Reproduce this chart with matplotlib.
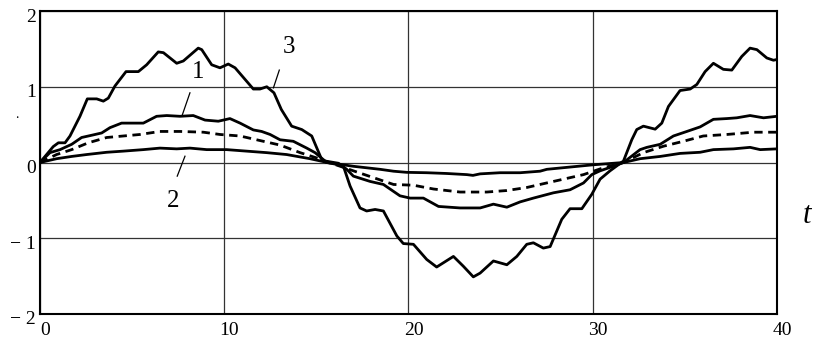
import matplotlib
matplotlib.use("Agg")
import matplotlib.pyplot as plt
import matplotlib.transforms as mtransforms

plt.rcParams['font.family'] = ['Liberation Serif', 'DejaVu Serif']

# curve 3 (largest amplitude)
t3 = [0, 0.72, 1.0, 1.36, 1.63, 2.17, 2.57, 3.08, 3.44, 3.71, 4.07, 4.67, 5.34, 5.79,
      6.42, 6.7, 7.42, 7.78, 8.59, 8.78, 9.32, 9.77, 10.22, 10.59, 11.58, 11.94, 12.31,
      12.7, 13.1, 13.66, 14.21, 14.75, 15.29, 15.55, 16.0, 16.47, 16.83, 17.37, 17.73,
      18.19, 18.64, 19.37, 19.72, 20.27, 20.99, 21.53, 22.44, 22.98, 23.52, 23.89, 24.61,
      25.34, 25.88, 26.42, 26.78, 27.32, 27.69, 28.32, 28.77, 29.41, 29.95, 30.40, 30.94,
      31.67, 32.12, 32.39, 32.75, 33.39, 33.75, 34.11, 34.74, 35.29, 35.65, 36.10, 36.55,
      37.09, 37.55, 38.09, 38.54, 38.91, 39.45, 39.81, 40]
y3 = [0, 0.21, 0.26, 0.26, 0.35, 0.61, 0.84, 0.84, 0.81, 0.85, 1.01, 1.20, 1.20, 1.29,
      1.46, 1.45, 1.31, 1.34, 1.51, 1.49, 1.29, 1.25, 1.30, 1.25, 0.97, 0.97, 1.0,
      0.92, 0.70, 0.48, 0.435, 0.35, 0.04, 0.0, -0.02, -0.05, -0.31, -0.60, -0.64,
      -0.62, -0.64, -0.97, -1.07, -1.08, -1.28, -1.38, -1.24, -1.37, -1.51, -1.46, -1.30,
      -1.35, -1.24, -1.08, -1.06, -1.13, -1.11, -0.75, -0.61, -0.61, -0.42, -0.22, -0.11,
      0.02, 0.30, 0.435, 0.48, 0.44, 0.52, 0.74, 0.95, 0.97, 1.03, 1.20, 1.31,
      1.23, 1.22, 1.40, 1.51, 1.49, 1.38, 1.35, 1.36]

# curve 1
t1 = [0, 0.54, 1.09, 1.72, 2.26, 2.81, 3.35, 3.80, 4.43, 5.07, 5.61, 6.33, 6.88, 7.60,
      8.32, 8.96, 9.68, 10.31, 10.86, 11.58, 12.03, 12.49, 13.03, 13.75, 14.48, 14.93,
      15.47, 16.2, 16.65, 17.01, 17.92, 18.64, 19.54, 20.09, 20.81, 21.63, 22.80, 23.89,
      24.61, 25.34, 26.06, 26.78, 27.87, 28.77, 29.50, 29.95, 30.40, 31.12, 31.67, 32.57,
      32.94, 33.66, 34.38, 35.11, 35.83, 36.55, 37.28, 37.82, 38.54, 39.27, 40]
y1 = [0, 0.13, 0.17, 0.24, 0.33, 0.36, 0.39, 0.46, 0.52, 0.52, 0.52, 0.61, 0.62, 0.61,
      0.62, 0.56, 0.545, 0.58, 0.52, 0.43, 0.41, 0.37, 0.30, 0.28, 0.19, 0.13,
      0.02, -0.01, -0.09, -0.18, -0.25, -0.29, -0.44, -0.47, -0.47, -0.58, -0.60, -0.60,
      -0.55, -0.59, -0.52, -0.47, -0.40, -0.36, -0.27, -0.16, -0.11, -0.05, 0.0, 0.17,
      0.20, 0.24, 0.35, 0.41, 0.47, 0.57, 0.58, 0.59, 0.62, 0.59, 0.61]

# dashed curve
td = [0, 0.9, 1.72, 2.62, 3.62, 4.52, 5.43, 6.51, 7.60, 8.87, 9.77, 10.86, 11.94, 13.03,
      14.12, 15.02, 15.7, 17.01, 18.10, 19.19, 20.27, 21.36, 22.80, 24.25, 25.34, 26.42,
      27.14, 28.41, 29.50, 30.58, 31.67, 32.75, 33.84, 34.92, 36.0, 37.28, 38.72, 40]
yd = [0, 0.105, 0.17, 0.26, 0.33, 0.35, 0.37, 0.41, 0.41, 0.40, 0.37, 0.35, 0.29, 0.23,
      0.13, 0.06, 0.0, -0.11, -0.20, -0.29, -0.30, -0.35, -0.39, -0.39, -0.37, -0.33,
      -0.29, -0.22, -0.16, -0.07, 0.0, 0.13, 0.215, 0.28, 0.35, 0.37, 0.40, 0.40]

# curve 2 (smallest)
t2 = [0, 0.9, 1.72, 2.53, 3.62, 4.52, 5.61, 6.51, 7.42, 8.14, 9.05, 10.13, 11.22, 12.31,
      13.39, 14.66, 15.6, 17.01, 18.46, 19.19, 19.91, 20.99, 22.08, 23.17, 23.5, 23.89,
      24.97, 26.06, 27.14, 27.51, 28.77, 30.04, 31.67, 32.57, 33.66, 34.74, 35.83, 36.55,
      37.64, 38.54, 39.09, 40]
y2 = [0, 0.05, 0.08, 0.105, 0.135, 0.15, 0.17, 0.19, 0.18, 0.19, 0.17, 0.17, 0.15, 0.13,
      0.105, 0.05, 0.0, -0.05, -0.09, -0.115, -0.13, -0.135, -0.145, -0.16, -0.17, -0.15,
      -0.135, -0.135, -0.115, -0.09, -0.06, -0.03, 0.0, 0.05, 0.08, 0.12, 0.135, 0.17,
      0.18, 0.20, 0.17, 0.18]

xticks = [0, 10, 20, 30, 40]
yticks = [-2, -1, 0, 1, 2]
ytick_labels = ['\u2212 2', '\u2212 1', '0', '1', '2']

fig = plt.figure(figsize=(8.14, 3.42), dpi=100)
ax = fig.add_axes([0.0491, 0.0819, 0.9054, 0.8859])

lw = 2.0
ax.plot(t3, y3, color='black', lw=lw)
ax.plot(t1, y1, color='black', lw=lw)
ax.plot(td, yd, color='black', lw=lw, dashes=(3, 2))
ax.plot(t2, y2, color='black', lw=lw)

ax.set_xlim(0, 40)
ax.set_ylim(-2, 2)
ax.set_xticks(xticks)
ax.set_xticklabels([str(v) for v in xticks])
ax.set_yticks(yticks)
ax.set_yticklabels(ytick_labels)
ax.grid(True, color='#333333', lw=0.9)
ax.set_axisbelow(True)
ax.tick_params(length=0, labelsize=14, pad=3)
ax.tick_params(axis='x', pad=6)
for s in ax.spines.values():
    s.set_linewidth(1.5)

# shift tick labels as in the original
dx = mtransforms.ScaledTranslation(5 / 100, 0, fig.dpi_scale_trans)
for lab in ax.get_xticklabels():
    lab.set_transform(lab.get_transform() + dx)
dy = mtransforms.ScaledTranslation(0, -4 / 100, fig.dpi_scale_trans)
for lab in ax.get_yticklabels():
    lab.set_transform(lab.get_transform() + dy)

# curve labels with leader lines
ax.text(8.6, 1.2, '1', fontsize=18, ha='center', va='center')
ax.plot([8.14, 7.7], [0.92, 0.61], color='black', lw=0.9)
ax.text(13.5, 1.53, '3', fontsize=18, ha='center', va='center')
ax.plot([12.99, 12.67], [1.22, 0.985], color='black', lw=0.9)
ax.text(7.2, -0.51, '2', fontsize=18, ha='center', va='center')
ax.plot([7.87, 7.45], [0.083, -0.18], color='black', lw=0.9)

ax.text(41.6, -0.70, 't', fontsize=22, style='italic', ha='center', va='center',
        clip_on=False)
ax.text(-1.25, 0.63, '.', fontsize=10, ha='center', va='center', clip_on=False)

fig.savefig('out.png', dpi=100)
